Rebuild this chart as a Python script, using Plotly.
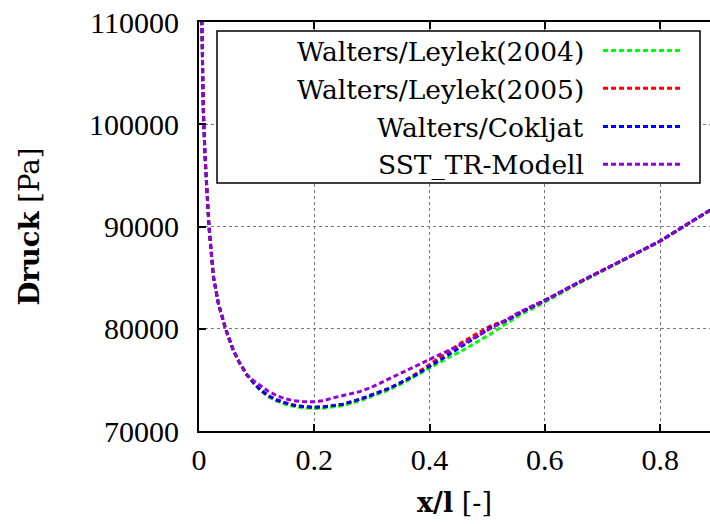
import plotly.graph_objects as go

# ---- data ----
x_pos = [0.0, 0.002, 0.005, 0.0075, 0.0104, 0.015, 0.0173, 0.025, 0.0335, 0.046,
         0.0595, 0.07, 0.083, 0.095, 0.106, 0.12, 0.135, 0.15, 0.163, 0.18,
         0.198, 0.215, 0.232, 0.25, 0.279, 0.3, 0.326, 0.349, 0.371, 0.4,
         0.43, 0.453, 0.48, 0.505, 0.534, 0.557, 0.6, 0.649, 0.7, 0.75,
         0.8, 0.846, 0.89]

head = [118000, 114000, 110000, 101400, 97000, 92300, 90000, 85100, 82500, 80000,
        77900, 76700, 75500]

tail = [82750, 84250, 85700, 87150, 88570, 90190, 91700]

p_leylek2004 = head + [74650, 74000, 73350, 72920, 72620, 72420, 72270,
                       72200, 72230, 72330, 72500, 72950, 73400, 73950, 74550, 75250, 76200,
                       77100, 77750, 78600, 79450, 80530, 81350] + [82600, 84150, 85650, 87120, 88560, 90180, 91700]
p_leylek2005 = head + [74700, 74050, 73450, 73030, 72750, 72540, 72400,
                       72320, 72350, 72450, 72620, 73100, 73550, 74080, 74700, 75400, 76500,
                       77700, 78550, 79450, 80250, 80850, 81550] + tail
p_cokljat = head + [74700, 74050, 73450, 73030, 72750, 72540, 72400,
                    72320, 72350, 72450, 72620, 73100, 73550, 74080, 74700, 75310, 76300,
                    77350, 78200, 79150, 80080, 80800, 81550] + tail
p_sst_tr = head + [74900, 74450, 73900, 73450, 73150, 72980, 72880,
                   72850, 72950, 73230, 73480, 73850, 74300, 74990, 75600, 76150, 77000,
                   77800, 78400, 79200, 79970, 80900, 81660] + [82800] + tail[1:]

series_names = ["Walters/Leylek(2004)", "Walters/Leylek(2005)", "Walters/Cokljat", "SST_TR-Modell"]
series_vals = [p_leylek2004, p_leylek2005, p_cokljat, p_sst_tr]
series_colors = ["#00ff00", "#ff0000", "#0000ff", "#9400d3"]

x_ticks = [0, 0.2, 0.4, 0.6, 0.8]
x_ticktext = ["0", "0.2", "0.4", "0.6", "0.8"]
y_ticks = [70000, 80000, 90000, 100000, 110000]
y_ticktext = ["70000", "80000", "90000", "100000", "110000"]

# ---- figure ----
W, H = 710, 524
ML, MR, MT, MB = 199, 0, 22, 93
PW, PH = W - ML - MR, H - MT - MB

def px_x(p):
    return (p - ML) / PW

def px_y(p):
    return (H - MB - p) / PH

FONT = "Liberation Serif, Times New Roman, serif"
FONT2 = "DejaVu Serif, Liberation Serif, serif"
DASH = "5px,3px"
LW = 3

fig = go.Figure()
for name, vals, col in zip(series_names, series_vals, series_colors):
    fig.add_trace(go.Scatter(x=x_pos, y=vals, mode="lines", name=name,
                             line=dict(color=col, width=LW, dash=DASH),
                             showlegend=False))

# custom legend (text right-aligned, sample on the right, gnuplot style)
shapes = [dict(type="rect", xref="paper", yref="paper",
               x0=px_x(217), x1=px_x(700), y0=px_y(183), y1=px_y(31),
               line=dict(color="black", width=1.5), fillcolor="white", layer="above")]
annotations = []
row_y = [50.5, 88.3, 126.5, 164.3]
for name, col, ry in zip(series_names, series_colors, row_y):
    shapes.append(dict(type="line", xref="paper", yref="paper",
                       x0=px_x(603), x1=px_x(682), y0=px_y(ry), y1=px_y(ry),
                       line=dict(color=col, width=LW, dash=DASH), layer="above"))
    annotations.append(dict(xref="paper", yref="paper", x=px_x(586), y=px_y(ry + 1),
                            text=name, showarrow=False, xanchor="right", yanchor="middle",
                            font=dict(family=FONT2, size=26.5, color="black")))

fig.update_layout(
    width=W, height=H,
    margin=dict(l=ML, r=MR, t=MT, b=MB, pad=0),
    paper_bgcolor="white", plot_bgcolor="white",
    font=dict(family=FONT, size=30, color="black"),
    shapes=shapes, annotations=annotations,
    showlegend=False,
)
fig.update_xaxes(range=[0, 0.8865], tickvals=x_ticks, ticktext=x_ticktext,
                 ticks="inside", ticklen=7, tickwidth=2, tickcolor="black",
                 showline=True, linecolor="black", linewidth=2, mirror="ticks",
                 showgrid=True, gridcolor="#777777", griddash="dot", gridwidth=1,
                 zeroline=False, ticklabelstandoff=1,
                 title=dict(text="<b>x/l</b> [-]", font=dict(family=FONT2, size=27), standoff=18))
fig.update_yaxes(range=[70000, 110000], tickvals=y_ticks, ticktext=y_ticktext,
                 ticks="inside", ticklen=7, tickwidth=2, tickcolor="black",
                 showline=True, linecolor="black", linewidth=2, mirror=False,
                 showgrid=True, gridcolor="#777777", griddash="dot", gridwidth=1,
                 zeroline=False, ticklabelstandoff=12,
                 title=dict(text="<b>Druck</b> [Pa]", font=dict(family=FONT2, size=27.5), standoff=41))

fig.write_html("out.html")
